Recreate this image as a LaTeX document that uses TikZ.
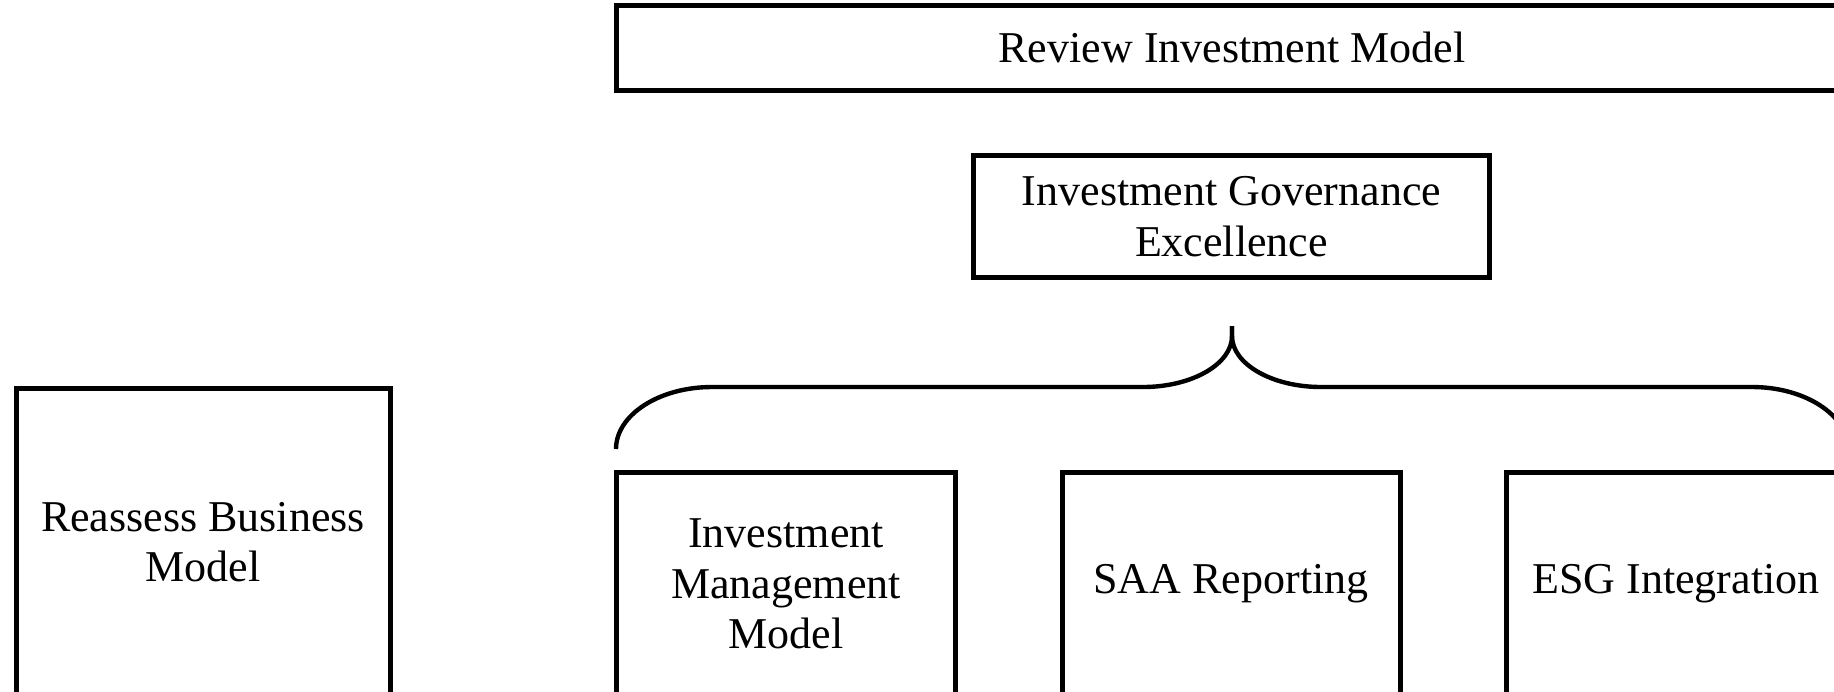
\documentclass[tikz,border=0pt]{standalone}
\usepackage{fontspec}
\setmainfont{Liberation Serif}
\usepackage{tikz}

\begin{document}
\begin{tikzpicture}[x=0.5pt,y=-0.5pt,
		box/.style={draw,line width=2.5pt,inner sep=0pt,align=center,
			font=\fontsize{22}{25.3}\selectfont},
		brace/.style={line width=2.2pt,line join=round}]
			\clip (0,0) rectangle (1834,691);
			% 顶部横条
			\node[box,minimum width=616pt,minimum height=42.5pt] (review) at (1232,47.5) {Review Investment Model};
			\node[box,minimum width=258pt,minimum height=61pt] (gov) at (1231.5,216.5) {Investment Governance\\Excellence};
			% 左侧方框
			\node[box,minimum width=187pt,minimum height=154pt] (business) at (203,542) {Reassess Business\\Model};
			% 下面三个方格
			\node[box,minimum width=169.5pt,minimum height=112pt] (imm) at (786,584) {Investment\\Management\\Model};
			\node[box,minimum width=169pt,minimum height=112pt] (saa) at (1231,584) {SAA Reporting};
			\node[box,minimum width=170pt,minimum height=112pt] (esg) at (1676,584) {ESG Integration};
			% 大括号
			\draw[brace] (616,449) .. controls (616,415) and (659,387) .. (712,387) -- (1143,387)
				.. controls (1192,387) and (1232,364) .. (1232,336) -- (1232,326);
			\draw[brace] (1232,326) -- (1232,336) .. controls (1232,364) and (1272,387) .. (1321,387)
				-- (1752,387) .. controls (1805,387) and (1848,415) .. (1848,449);
		\end{tikzpicture}
\end{document}
